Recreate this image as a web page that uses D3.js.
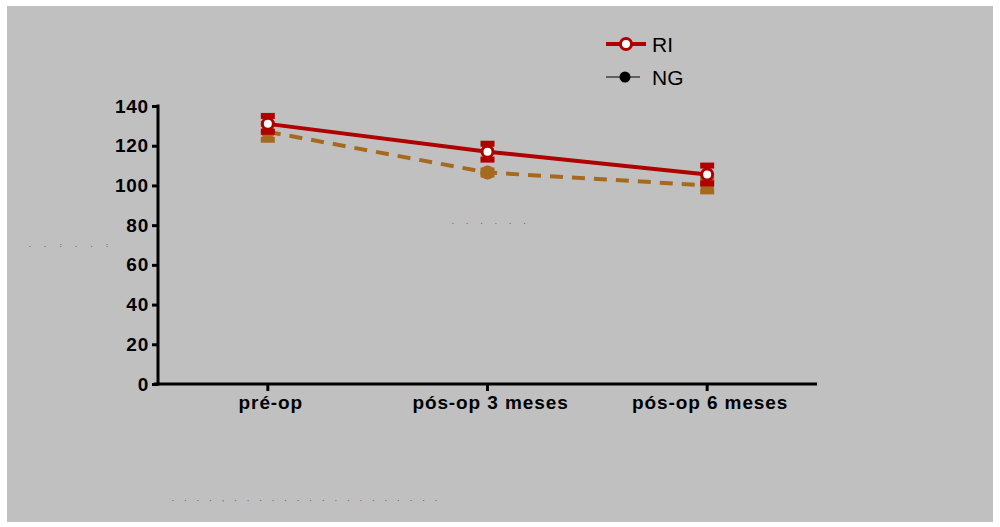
<!DOCTYPE html>
<html>
<head>
<meta charset="utf-8">
<script src="https://cdn.jsdelivr.net/npm/d3@7"></script>
<style>
    body { margin: 0; background: #ffffff; }
    svg { display: block; }
    .axis text { font-family: "Liberation Sans", Arial, sans-serif; font-weight: bold; font-size: 19px; fill: #000; }
    .ghost { font-family: "Liberation Sans", Arial, sans-serif; font-size: 6px; font-weight: bold; fill: #444; }
</style>
</head>
<body>
<div id="chart"></div>
<script>

// categories and values
let categories = ["pré-op", "pós-op 3 meses", "pós-op 6 meses"];
let riMeans = [131, 117, 105.5];
let riErr = [4.5, 4.5, 5];
let ngMeans = [127, 106.5, 100];
let ngErr = [4.5, 1.5, 3.5];
let yTicks = [0, 20, 40, 60, 80, 100, 120, 140];

let width = 1000, height = 527;
let margin = {top: 106, right: 183, bottom: 143, left: 158};
let innerW = width - margin.left - margin.right;
let innerH = height - margin.top - margin.bottom;

let riColor = "#b00000";
let ngColor = "#a56a1e";

let svg = d3.select("#chart").append("svg")
    .attr("width", width)
    .attr("height", height);

// gray panel
svg.append("rect")
    .attr("x", 7).attr("y", 6)
    .attr("width", 986).attr("height", 516)
    .attr("fill", "#c0c0c0");

let g = svg.append("g")
    .attr("transform", `translate(${margin.left},${margin.top})`);

let x = d3.scaleBand()
    .domain(categories)
    .range([0, innerW])
    .padding(0);

let y = d3.scaleLinear()
    .domain([0, 140])
    .range([innerH, 0]);

let cx = function (i) { return x(categories[i]) + x.bandwidth() / 2; };

// y axis
let yAxis = g.append("g")
    .attr("class", "axis")
    .call(d3.axisLeft(y).tickValues(yTicks).tickSize(6).tickPadding(3));
yAxis.selectAll("line").attr("stroke", "#000").attr("stroke-width", 3);
yAxis.select(".domain").remove();
yAxis.selectAll("text").attr("letter-spacing", "0.8px");
g.append("line")
    .attr("x1", 0).attr("x2", 0)
    .attr("y1", y(140) - 1.5).attr("y2", y(0) + 1.5)
    .attr("stroke", "#000").attr("stroke-width", 3);

// x axis
let xAxis = g.append("g")
    .attr("class", "axis")
    .attr("transform", `translate(0,${innerH})`)
    .call(d3.axisBottom(x).tickSize(7).tickPadding(5));
xAxis.selectAll("line").attr("stroke", "#000").attr("stroke-width", 3);
xAxis.select(".domain").remove();
xAxis.selectAll("text")
    .attr("letter-spacing", "0.9px")
    .attr("dx", 3);
g.append("line")
    .attr("x1", -4).attr("x2", innerW)
    .attr("y1", innerH).attr("y2", innerH)
    .attr("stroke", "#000").attr("stroke-width", 3);

// lines
let line = d3.line()
    .x(function (d, i) { return cx(i); })
    .y(function (d) { return y(d); });

function errorBars(means, errs, color) {
    let cap = 14;
    means.forEach(function (m, i) {
        let eg = g.append("g").attr("stroke", color);
        eg.append("line")
            .attr("x1", cx(i)).attr("x2", cx(i))
            .attr("y1", y(m + errs[i])).attr("y2", y(m - errs[i]))
            .attr("stroke-width", 5);
        eg.append("line")
            .attr("x1", cx(i) - cap / 2).attr("x2", cx(i) + cap / 2)
            .attr("y1", y(m + errs[i]) + 1).attr("y2", y(m + errs[i]) + 1)
            .attr("stroke-width", 6);
        eg.append("line")
            .attr("x1", cx(i) - cap / 2).attr("x2", cx(i) + cap / 2)
            .attr("y1", y(m - errs[i]) - 1).attr("y2", y(m - errs[i]) - 1)
            .attr("stroke-width", 6);
    });
}

errorBars(ngMeans, ngErr, ngColor);

g.append("path")
    .attr("d", line(ngMeans))
    .attr("fill", "none")
    .attr("stroke", ngColor)
    .attr("stroke-width", 4)
    .attr("stroke-dasharray", "13,9");

g.selectAll(".ngDot")
    .data(ngMeans)
    .enter().append("circle")
    .attr("class", "ngDot")
    .attr("cx", function (d, i) { return cx(i); })
    .attr("cy", function (d) { return y(d); })
    .attr("r", 7)
    .attr("fill", ngColor);

errorBars(riMeans, riErr, riColor);

g.append("path")
    .attr("d", line(riMeans))
    .attr("fill", "none")
    .attr("stroke", riColor)
    .attr("stroke-width", 4);

g.selectAll(".riDot")
    .data(riMeans)
    .enter().append("circle")
    .attr("class", "riDot")
    .attr("cx", function (d, i) { return cx(i); })
    .attr("cy", function (d) { return y(d); })
    .attr("r", 5.5)
    .attr("fill", "#fff")
    .attr("stroke", riColor)
    .attr("stroke-width", 3);

// legend
let legend = svg.append("g").attr("transform", "translate(606,44)");
legend.append("line")
    .attr("x1", 0).attr("x2", 40).attr("y1", 0).attr("y2", 0)
    .attr("stroke", riColor).attr("stroke-width", 4);
legend.append("circle")
    .attr("cx", 20).attr("cy", 0).attr("r", 5.5)
    .attr("fill", "#fff").attr("stroke", riColor).attr("stroke-width", 3);
legend.append("text")
    .attr("x", 46).attr("y", 8)
    .style("font-family", "Liberation Sans, Arial, sans-serif")
    .style("font-size", "21px")
    .text("RI");

legend.append("line")
    .attr("x1", 0).attr("x2", 34).attr("y1", 33).attr("y2", 33)
    .attr("stroke", "#000").attr("stroke-width", 1);
legend.append("circle")
    .attr("cx", 19).attr("cy", 33).attr("r", 5.5)
    .attr("fill", "#000");
legend.append("text")
    .attr("x", 46).attr("y", 41)
    .style("font-family", "Liberation Sans, Arial, sans-serif")
    .style("font-size", "21px")
    .text("NG");

// faint remnants of titles
svg.append("text").attr("class", "ghost")
    .attr("x", 29).attr("y", 247)
    .attr("letter-spacing", "6px")
    .text(". . : . . :");
svg.append("text").attr("class", "ghost")
    .attr("x", 452).attr("y", 224)
    .attr("letter-spacing", "5.5px")
    .text(". . . . . .");
svg.append("text").attr("class", "ghost")
    .attr("x", 172).attr("y", 501)
    .attr("letter-spacing", "4.6px")
    .text(". . . . , . . . . . . . . . . . . . . . . .");

</script>
</body>
</html>
